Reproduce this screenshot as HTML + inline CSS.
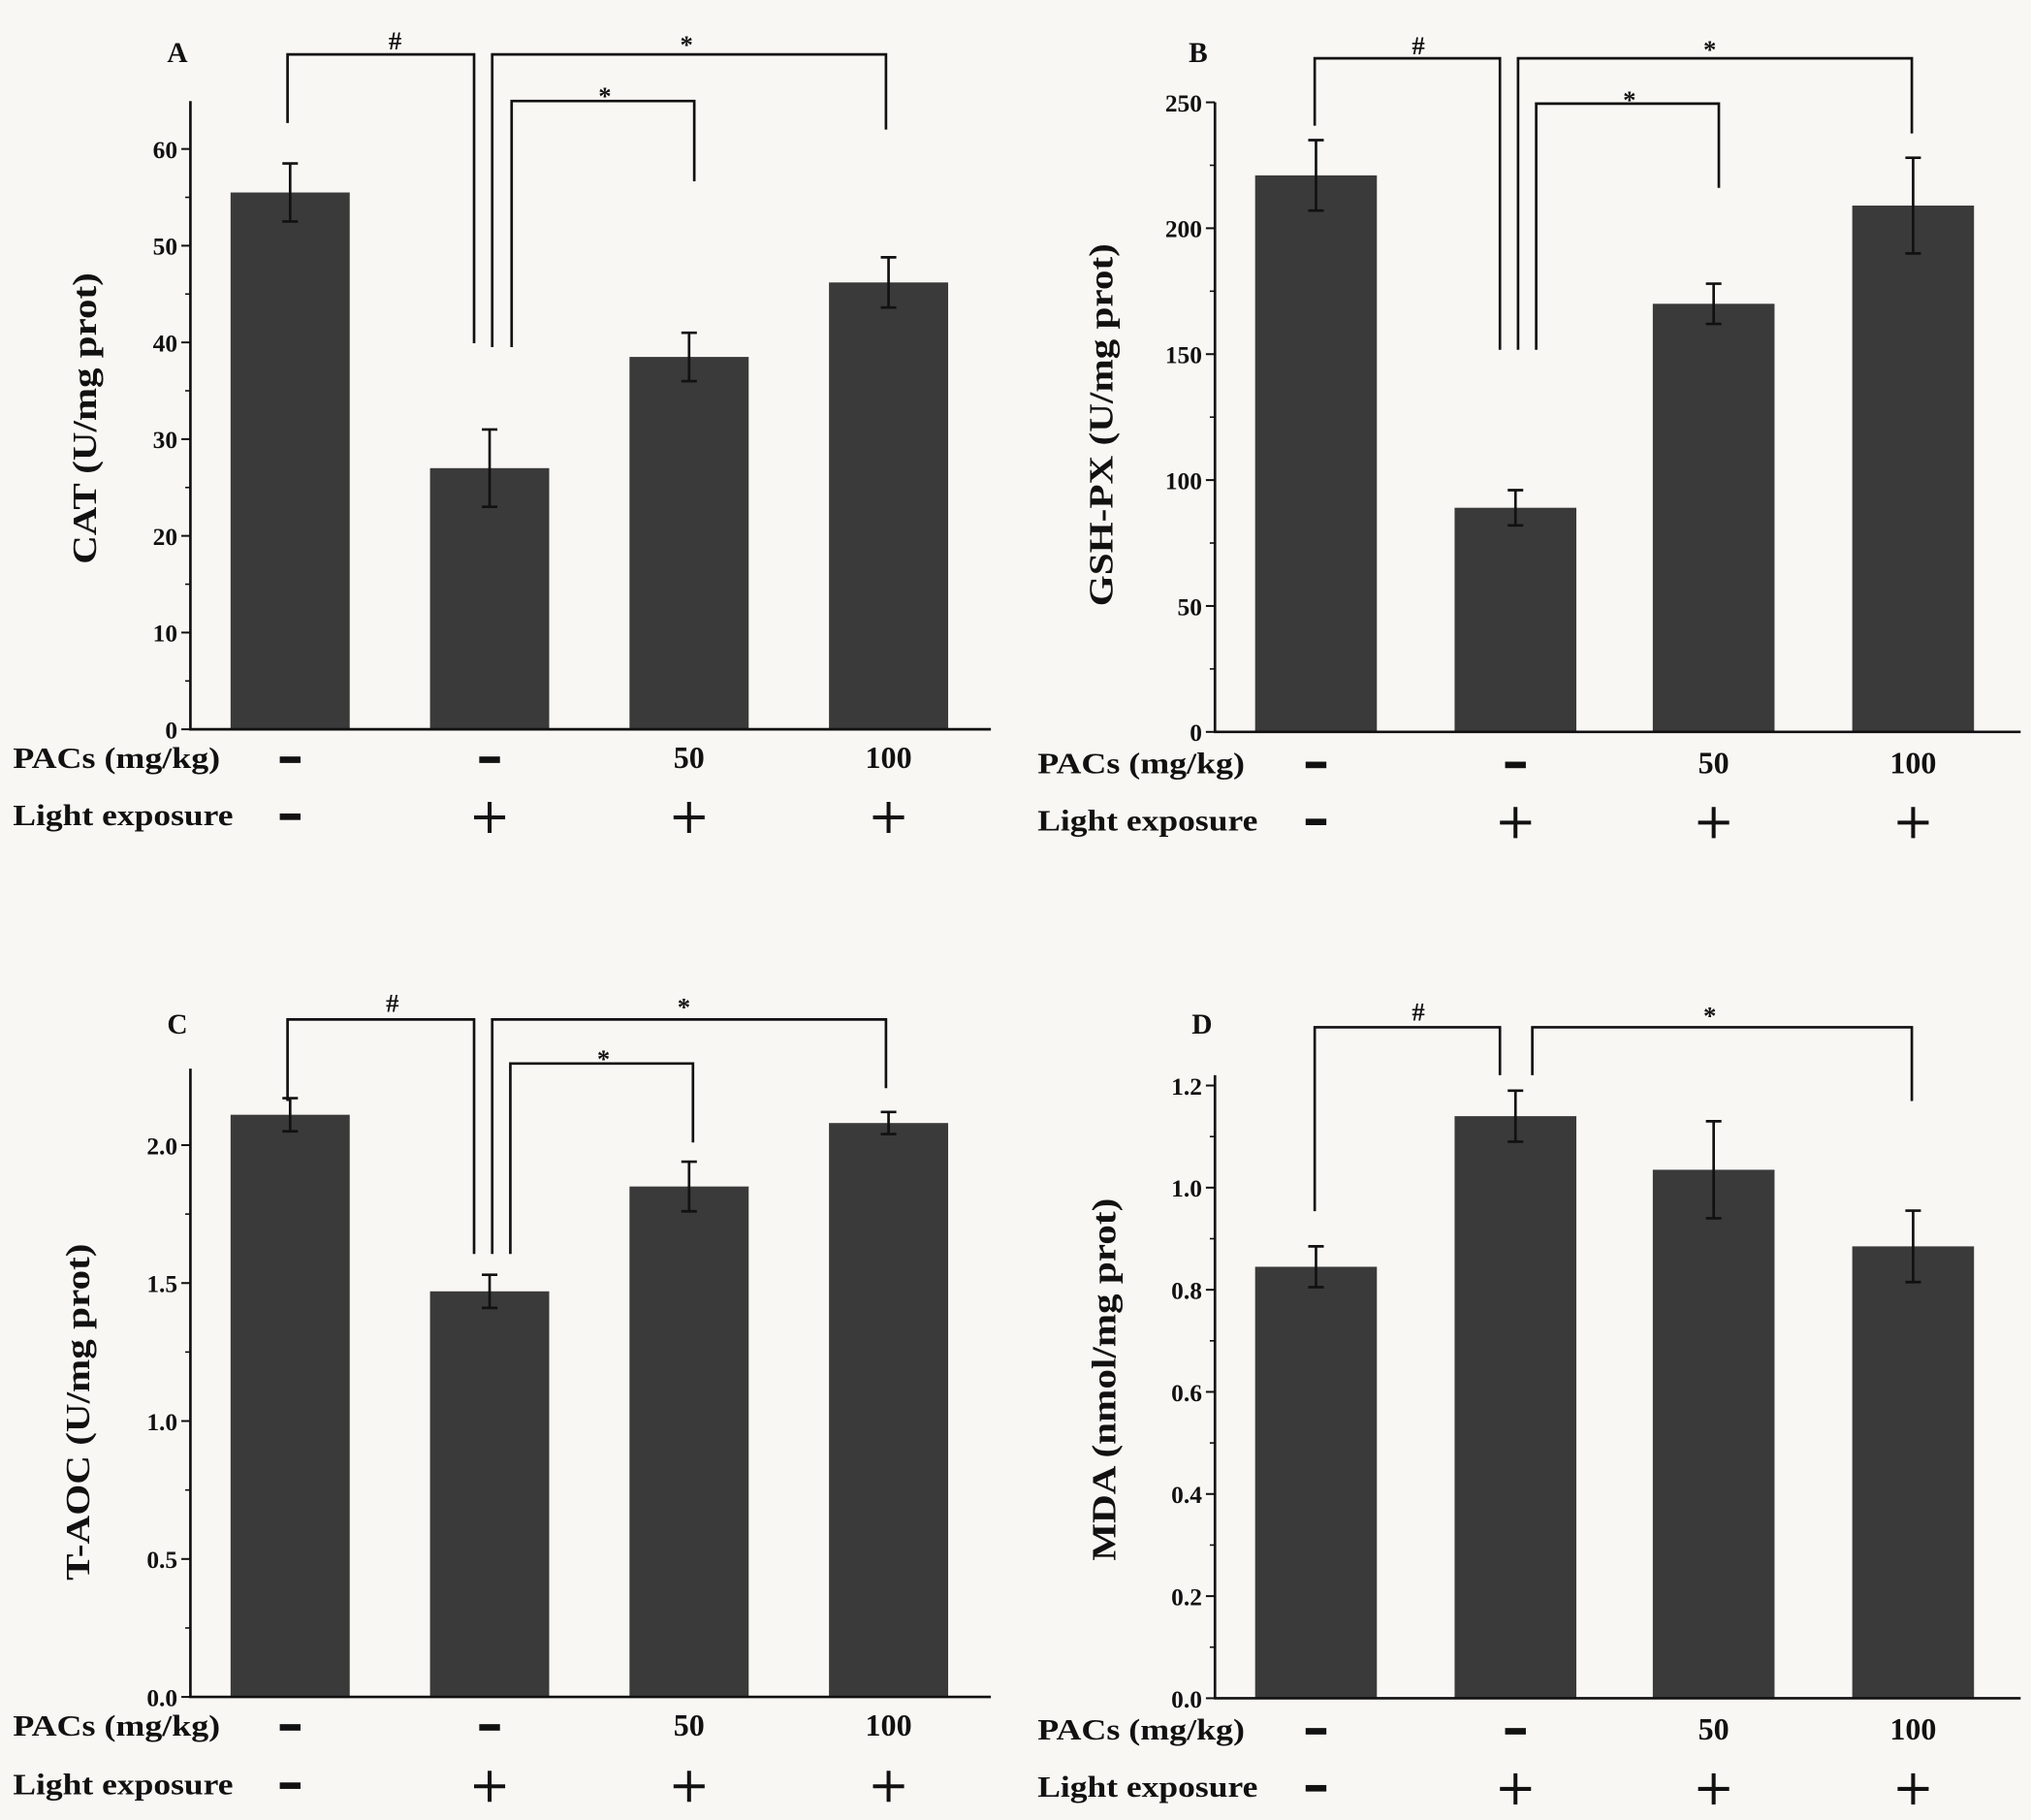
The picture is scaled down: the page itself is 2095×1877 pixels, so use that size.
<!DOCTYPE html>
<html><head><meta charset="utf-8"><style>
html,body{margin:0;padding:0;background:#f8f7f4;}
svg{display:block;font-family:"Liberation Serif",serif;font-weight:bold;}
</style></head><body>
<svg id="fig" width="2095" height="1877" viewBox="0 0 1568 1405" preserveAspectRatio="none" xmlns="http://www.w3.org/2000/svg">
<rect x="0" y="0" width="1568" height="1405" fill="#f8f7f4"/>
</svg>
<script>
const groupsPACs = ["-", "-", "50", "100"];
const groupsLight = ["-", "+", "+", "+"];
const catValues = [55.5, 27.0, 38.5, 46.2];
const catErrors = [3.0, 4.0, 2.5, 2.6];
const gshValues = [221, 89, 170, 209];
const gshErrors = [14, 7, 8, 19];
const taocValues = [2.11, 1.47, 1.85, 2.08];
const taocErrors = [0.06, 0.06, 0.09, 0.04];
const mdaValues = [0.845, 1.14, 1.035, 0.885];
const mdaErrors = [0.04, 0.05, 0.095, 0.07];
const catTicks = [0, 10, 20, 30, 40, 50, 60];
const gshTicks = [0, 50, 100, 150, 200, 250];
const taocTicks = [0.0, 0.5, 1.0, 1.5, 2.0];
const mdaTicks = [0.0, 0.2, 0.4, 0.6, 0.8, 1.0, 1.2];

const svg = document.getElementById('fig');
const NS = 'http://www.w3.org/2000/svg';
function mk(tag, attrs, parent) {
  const e = document.createElementNS(NS, tag);
  for (const k in attrs) e.setAttribute(k, attrs[k]);
  (parent || svg).appendChild(e);
  return e;
}
function txt(parent, x, y, s, size, anchor) {
  const t = mk('text', {x: x, y: y, 'font-size': size, 'text-anchor': anchor || 'middle', fill: '#111'}, parent);
  t.textContent = s;
  return t;
}

const panels = [
  {id:'a', letter:'A', title:'CAT (U/mg prot)', tlen:225, ax:147, y0:563, ytop:78, xend:765, vmax:60, vmaxPx:115, vals:catValues, errs:catErrors, ticks:catTicks, dec:0,
   cx:[224,378,532,686], bw:92, rowP:593, rowL:637, titleX:65, titleY:323, letterXY:[137,48],
   brackets:[[222,95,366,265,42,'#',305,30],[380,268,684,100,42,'*',530,33],[395,268,536,140,78,'*',467,73]]},
  {id:'b', letter:'B', title:'GSH-PX (U/mg prot)', tlen:280, ax:938, y0:565, ytop:79, xend:1560, vmax:250, vmaxPx:79, vals:gshValues, errs:gshErrors, ticks:gshTicks, dec:0,
   cx:[1016,1170,1323,1477], bw:94, rowP:597, rowL:641, titleX:850, titleY:328, letterXY:[925,48],
   brackets:[[1015,97,1158,270,45,'#',1095,34],[1172,270,1476,103,45,'*',1320,37],[1186,270,1327,145,80,'*',1258,76]]},
  {id:'c', letter:'C', title:'T-AOC (U/mg prot)', tlen:260, ax:147, y0:1310, ytop:825, xend:765, vmax:2.0, vmaxPx:884, vals:taocValues, errs:taocErrors, ticks:taocTicks, dec:1,
   cx:[224,378,532,686], bw:92, rowP:1340, rowL:1385, titleX:60, titleY:1090, letterXY:[137,798],
   brackets:[[222,850,366,968,787,'#',303,773],[380,968,684,840,787,'*',528,776],[394,968,535,882,821,'*',466,816]]},
  {id:'d', letter:'D', title:'MDA (nmol/mg prot)', tlen:280, ax:938, y0:1311, ytop:830, xend:1560, vmax:1.2, vmaxPx:838, vals:mdaValues, errs:mdaErrors, ticks:mdaTicks, dec:1,
   cx:[1016,1170,1323,1477], bw:94, rowP:1343, rowL:1387, titleX:852, titleY:1065, letterXY:[928,798],
   brackets:[[1015,935,1158,830,793,'#',1095,780],[1183,830,1476,850,793,'*',1320,783]]}
];

panels.forEach(p => {
  const g = mk('g', {});
  
  
  const yScale = v => p.y0 - (v / p.vmax) * (p.y0 - p.vmaxPx);
  p.vals.forEach((v, i) => {
    const r = mk('rect', {x: p.cx[i] - p.bw/2, y: yScale(v), width: p.bw, height: p.y0 - yScale(v), fill: '#3a3a3a'}, g);
    
    
    const e = p.errs[i], yh = yScale(v + e), yl = yScale(v - e);
    const eb = mk('path', {d: `M${p.cx[i]},${yh}V${yl}M${p.cx[i]-6},${yh}H${p.cx[i]+6}M${p.cx[i]-6},${yl}H${p.cx[i]+6}`, stroke: '#111', 'stroke-width': 2, fill: 'none'}, g);
    
    
  });
  const axes = mk('path', {d: `M${p.ax},${p.ytop}V${p.y0}H${p.xend}`, stroke: '#111', 'stroke-width': 2, fill: 'none'}, g);
  
  
  p.ticks.forEach((t, i) => {
    const y = yScale(t);
    mk('line', {x1: p.ax - 7, x2: p.ax, y1: y, y2: y, stroke: '#111', 'stroke-width': 1.5}, g);
    const lab = txt(g, p.ax - 10, y + 7, p.dec ? t.toFixed(p.dec) : String(t), 19, 'end');
    
    
    if (i < p.ticks.length - 1) {
      const ym = yScale((t + p.ticks[i+1]) / 2);
      mk('line', {x1: p.ax - 4, x2: p.ax, y1: ym, y2: ym, stroke: '#111', 'stroke-width': 1.2}, g);
    }
  });
  const yt = txt(g, 0, 0, p.title, 26);
  yt.setAttribute('textLength', p.tlen);
  yt.setAttribute('lengthAdjust', 'spacingAndGlyphs');
  yt.setAttribute('transform', `translate(${p.titleX + 9},${p.titleY}) rotate(-90)`);
  
  
  const lt = txt(g, p.letterXY[0], p.letterXY[1], p.letter, 22);
  
  
  const lp = txt(g, p.ax - 137, p.rowP, 'PACs (mg/kg)', 23, 'start');
  lp.setAttribute('textLength', 160);
  lp.setAttribute('lengthAdjust', 'spacingAndGlyphs');
  
  
  const ll = txt(g, p.ax - 137, p.rowL, 'Light exposure', 23, 'start');
  ll.setAttribute('textLength', 170);
  ll.setAttribute('lengthAdjust', 'spacingAndGlyphs');
  
  
  p.cx.forEach((x, i) => {
    [[groupsPACs[i], p.rowP], [groupsLight[i], p.rowL]].forEach(([s, y]) => {
      if (s === '-') {
        mk('rect', {x: x - 8, y: y - 9, width: 16, height: 5, fill: '#111'}, g);
      } else if (s === '+') {
        mk('path', {d: `M${x-12},${y-6}H${x+12}M${x},${y-18}V${y+6}`, stroke: '#111', 'stroke-width': 3}, g);
      } else {
        txt(g, x, y, s, 24);
      }
    });
  });
  p.brackets.forEach((b, j) => {
    const br = mk('path', {d: `M${b[0]},${b[1]}V${b[4]}H${b[2]}V${b[3]}`, stroke: '#111', 'stroke-width': 2, fill: 'none'}, g);
    
    
    const s = txt(g, b[6], b[7] + 8, b[5], 20);
    
    
  });
});
</script>
</body></html>
